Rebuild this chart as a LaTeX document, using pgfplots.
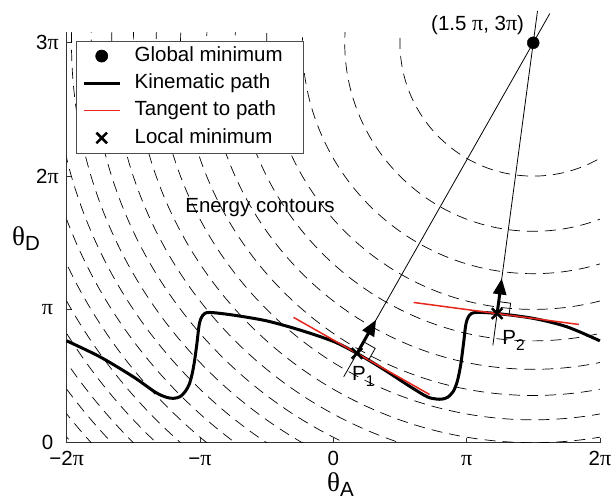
\documentclass[border=0pt]{standalone}
\usepackage{pgfplots}
\pgfplotsset{compat=1.18}
\usepackage{fontspec}
\setmainfont{Liberation Sans}
\newfontfamily\symf{Liberation Serif}
\usetikzlibrary{arrows.meta}
\definecolor{tanred}{RGB}{232,38,30}
\newcommand\fs{\fontsize{20.5bp}{24bp}\selectfont}
\newcommand\p{{\symf\fontsize{22bp}{24bp}\selectfont π}}
\newcommand\thet{{\symf\fontsize{27bp}{30bp}\selectfont θ}}
\pgfplotsset{mylegend/.style={legend image code/.code={\draw[mark repeat=2, mark phase=2, ##1] plot coordinates {(0bp,0bp) (18bp,0bp) (36bp,0bp)};}}}
\begin{document}
\begin{tikzpicture}
\useasboundingbox (-66.7bp,-57.3bp) rectangle (547.3bp,442.7bp);
\begin{axis}[
  at={(0,0)}, anchor=south west,
  x=133.3bp, y=133.3bp,
  xmin=-2, xmax=2, ymin=0, ymax=3.08,
  axis lines*=left,
  axis line style={black!80, line width=0.8bp},
  tick align=inside,
  major tick length=5bp,
  tick style={black!80, line width=0.7bp},
  xtick={-2,-1,0,1,2},
  xticklabels={−2\p, −\p, 0, \p, 2\p},
  ytick={0,1,2,3},
  yticklabels={0, \p, 2\p, 3\p},
  every tick label/.append style={font=\fs, inner sep=0pt},
  xticklabel style={anchor=base, yshift=-22.3bp},
  yticklabel style={anchor=center, xshift=-19.2bp},
  xlabel={\thet\raisebox{-4.5bp}{A}},
  ylabel={\thet\raisebox{-5bp}{D}},
  every axis x label/.style={at={(axis description cs:0.488,-0.120)}, anchor=base west, font=\fs, inner sep=0pt},
  every axis y label/.style={at={(axis description cs:-0.1027,0.4808)}, anchor=base west, font=\fs, inner sep=0pt},
  clip=false,
  legend style={at={(axis cs:-1.929,3.016)}, anchor=north west, draw=black!70, line width=0.7bp, fill=white, font=\fs,
    inner xsep=5.7bp, inner ysep=5.3bp, row sep=7.8bp, column sep=13.4bp,
    nodes={inner sep=0pt, text height=15bp, text depth=4.5bp}},
  legend cell align=left,
]
\addlegendimage{mylegend, only marks, mark=*, mark size=6bp, black}
\addlegendentry{Global minimum\hspace*{15bp}}
\addlegendimage{mylegend, black, line width=3bp}
\addlegendentry{Kinematic path}
\addlegendimage{mylegend, tanred, line width=1.5bp}
\addlegendentry{Tangent to path}
\addlegendimage{mylegend, only marks, mark=x, mark size=7.5bp, line width=2.5bp, black}
\addlegendentry{Local minimum}

% energy contours: circles about the global minimum, radii sqrt(k) pi
\begin{scope}
\clip (axis cs:-2,0) rectangle (axis cs:2,3.08);
\pgfplotsinvokeforeach{1,1.4142,1.7321,2,2.2361,2.4495,2.6458,2.8284,3,3.1623,3.3166,3.4641,3.6056,3.7417,3.8730,4,4.1231,4.2426,4.3589,4.4721,4.5826}{
  \draw[black, line width=0.7bp, dash pattern=on 11bp off 7bp] (axis cs:1.5,3) circle[radius=#1];
}
\end{scope}

% lines from the global minimum through P1 and P2
\addplot[black, line width=0.8bp, forget plot] coordinates {(0.078,0.494) (1.624,3.219)};
\addplot[black, line width=0.8bp, forget plot] coordinates {(1.197,0.73) (1.532,3.24)};

% kinematic path
\addplot[black, line width=3bp, smooth, tension=0.5, forget plot] coordinates {
(-2.000,0.764) (-1.750,0.644) (-1.500,0.494) (-1.334,0.378) (-1.250,0.340)
(-1.199,0.333) (-1.150,0.345) (-1.110,0.385) (-1.080,0.440) (-1.058,0.520)
(-1.040,0.620) (-1.023,0.745) (-1.005,0.890) (-0.980,0.955) (-0.930,0.977)
(-0.750,0.957) (-0.500,0.914) (-0.250,0.845) (0.000,0.760) (0.178,0.670)
(0.378,0.550) (0.578,0.420) (0.703,0.345) (0.770,0.328) (0.816,0.327)
(0.860,0.342) (0.900,0.385) (0.930,0.460) (0.955,0.580) (0.977,0.745)
(0.995,0.890) (1.020,0.955) (1.070,0.977) (1.229,0.969) (1.504,0.932)
(1.754,0.869) (2.000,0.764)};

% tangents
\addplot[tanred, line width=1.5bp, forget plot] coordinates {(-0.298,0.940) (0.723,0.361)};
\addplot[tanred, line width=1.5bp, forget plot] coordinates {(0.603,1.052) (1.842,0.887)};

% right-angle markers
\addplot[black, line width=0.8bp, forget plot] coordinates {(0.2274,0.7570) (0.3144,0.7076) (0.2650,0.6206)};
\addplot[black, line width=0.8bp, forget plot] coordinates {(1.2409,1.0582) (1.3301,1.0463) (1.3182,0.9571)};

% arrows
\addplot[black, line width=3bp, -{Triangle[length=16bp,width=13bp]}, forget plot] coordinates {(0.178,0.670) (0.321,0.922)};
\addplot[black, line width=3bp, -{Triangle[length=16bp,width=13bp]}, forget plot] coordinates {(1.229,0.969) (1.264,1.232)};

% local minima
\addplot[only marks, mark=x, mark size=7.5bp, line width=2.5bp, black, forget plot] coordinates {(0.178,0.670) (1.229,0.969)};

% global minimum
\addplot[only marks, mark=*, mark size=6bp, black, forget plot] coordinates {(1.5,3)};

\node[anchor=base west, font=\fs, inner sep=0pt] at (axis cs:-1.111,1.730) {Energy contours};
\node[anchor=base east, font=\fs, inner sep=0pt, xshift=-9bp, yshift=12bp] at (axis cs:1.5,3) {(1.5 \p, 3\p)};
\node[anchor=base west, font=\fs, inner sep=0pt] at (axis cs:0.140,0.464) {P\raisebox{-6bp}{\fontsize{15.5bp}{18bp}\selectfont 1}};
\node[anchor=base west, font=\fs, inner sep=0pt] at (axis cs:1.267,0.739) {P\raisebox{-6bp}{\fontsize{15.5bp}{18bp}\selectfont 2}};
\end{axis}
\end{tikzpicture}
\end{document}
